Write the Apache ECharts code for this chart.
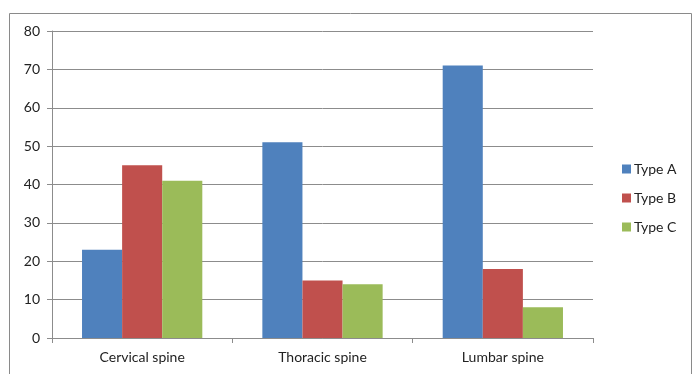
<!DOCTYPE html>
<html>
<head>
<meta charset="utf-8">
<script src="https://cdn.jsdelivr.net/npm/echarts@6/dist/echarts.min.js"></script>
<style>
  html, body { margin: 0; padding: 0; background: #fff; }
  #chart { width: 693px; height: 374px; }
</style>
</head>
<body>
<div id="chart"></div>
<script>
// Spine regions and counts per fracture type
const categories = ['Cervical spine', 'Thoracic spine', 'Lumbar spine'];
const typeA = [23, 51, 71];
const typeB = [45, 15, 18];
const typeC = [41, 14, 8];
const seriesNames = ['Type A', 'Type B', 'Type C'];
const seriesColors = ['#4F81BD', '#C0504D', '#9BBB59'];

const FONT = 'Lato, "Open Sans", sans-serif';
const AXIS_GRAY = '#8c8c8c';

const chart = echarts.init(document.getElementById('chart'), null, { renderer: 'canvas' });

const values = [typeA, typeB, typeC];

chart.setOption({
  animation: false,
  backgroundColor: '#fff',
  graphic: [{
    type: 'rect',
    shape: { x: 9.5, y: 13.5, width: 682, height: 400 },
    style: { fill: 'none', stroke: '#8a8a8a', lineWidth: 1 },
    silent: true
  }],
  grid: { left: 52, right: 100, top: 31, bottom: 36, containLabel: false },
  legend: {
    orient: 'vertical',
    left: 617,
    top: 157,
    itemWidth: 9,
    itemHeight: 9,
    itemGap: 15,
    icon: 'rect',
    data: seriesNames,
    textStyle: { fontFamily: FONT, fontSize: 14, color: '#222', padding: [0, 0, 0, -2] }
  },
  xAxis: {
    type: 'category',
    data: categories,
    axisLine: { lineStyle: { color: AXIS_GRAY, width: 1 } },
    axisTick: { show: true, length: 5, lineStyle: { color: AXIS_GRAY } },
    axisLabel: { fontFamily: FONT, fontSize: 14, color: '#222', margin: 12 },
    splitLine: { show: false }
  },
  yAxis: {
    type: 'value',
    min: 0,
    max: 80,
    interval: 10,
    axisLine: { show: true, lineStyle: { color: AXIS_GRAY, width: 1 } },
    axisTick: { show: true, length: 5, lineStyle: { color: AXIS_GRAY } },
    axisLabel: { fontFamily: FONT, fontSize: 14, color: '#222', margin: 12 },
    splitLine: { show: true, lineStyle: { color: AXIS_GRAY, width: 1 } }
  },
  series: seriesNames.map((name, i) => ({
    name: name,
    type: 'bar',
    data: values[i],
    barGap: '0%',
    barCategoryGap: '33.3%',
    itemStyle: { color: seriesColors[i] }
  }))
});
</script>
</body>
</html>
